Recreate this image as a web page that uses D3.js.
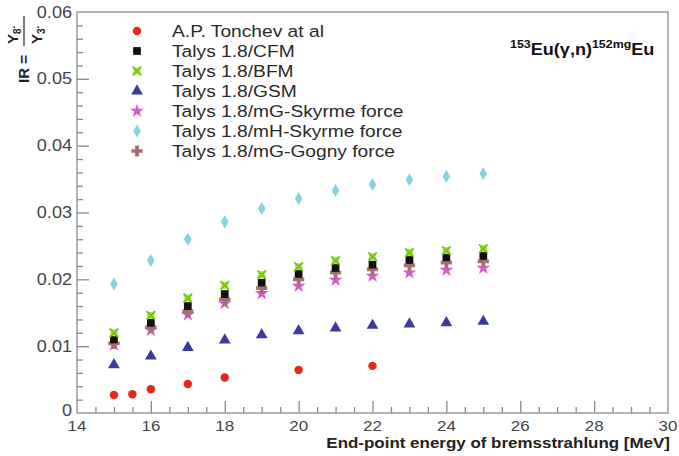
<!DOCTYPE html>
<html>
<head>
<meta charset="utf-8">
<script src="https://cdn.jsdelivr.net/npm/d3@7"></script>
<style>
  html, body { margin: 0; padding: 0; background: #fff; }
  svg { display: block; font-family: "Liberation Sans", Arial, sans-serif; }
</style>
</head>
<body>
<svg id="chart" width="679" height="456"></svg>
<script>
// ---- data ----
const energiesExp = [15, 15.5, 16, 17, 18, 20, 22];
const tonchev     = [0.0027, 0.0028, 0.00355, 0.00435, 0.0053, 0.00645, 0.00705];

const energies = [15, 16, 17, 18, 19, 20, 21, 22, 23, 24, 25];
const cfm      = [0.0110, 0.0135, 0.0160, 0.0178, 0.0195, 0.0208, 0.0217, 0.0222, 0.0229, 0.0233, 0.0235];
const bfm      = [0.0120, 0.0146, 0.0172, 0.0191, 0.0207, 0.0219, 0.0228, 0.0234, 0.0240, 0.0243, 0.0246];
const gsm      = [0.0072, 0.0085, 0.0098, 0.0109, 0.0117, 0.0123, 0.0127, 0.0131, 0.0133, 0.0135, 0.0137];
const mgSkyrme = [0.0102, 0.0124, 0.0147, 0.0164, 0.0179, 0.0190, 0.0199, 0.0205, 0.0210, 0.0214, 0.0217];
const mhSkyrme = [0.0193, 0.0228, 0.0260, 0.0286, 0.0306, 0.0321, 0.0333, 0.0342, 0.0349, 0.0354, 0.0358];
const mgGogny  = [0.0104, 0.0128, 0.0152, 0.0170, 0.0187, 0.0200, 0.0210, 0.0215, 0.0221, 0.0225, 0.0227];

const legendLabels = [
  "A.P. Tonchev at al",
  "Talys 1.8/CFM",
  "Talys 1.8/BFM",
  "Talys 1.8/GSM",
  "Talys 1.8/mG-Skyrme force",
  "Talys 1.8/mH-Skyrme force",
  "Talys 1.8/mG-Gogny force"
];
const xTicks = [14, 16, 18, 20, 22, 24, 26, 28, 30];
const yTicks = [0, 0.01, 0.02, 0.03, 0.04, 0.05, 0.06];
const xTitle = "End-point energy of bremsstrahlung [MeV]";

// ---- layout ----
const svg = d3.select("#chart");
const L = 77, R = 668, T = 12, B = 413;
const SX = 1.13; // horizontal stretch of the reference's text
const x = d3.scaleLinear().domain([14, 30]).range([L, R]);
const y = d3.scaleLinear().domain([0, 0.06]).range([B, T]);
const axisCol = "#8a8a8a";

// frame
svg.append("rect").attr("x", L).attr("y", T).attr("width", R - L).attr("height", B - T)
  .attr("fill", "none").attr("stroke", "#9a9a9a").attr("stroke-width", 1.5);

// minor ticks
const yMinor = d3.range(0, 0.0601, 0.002).filter(v => Math.abs(v / 0.01 - Math.round(v / 0.01)) > 1e-6);
const xMinor = d3.range(14, 30.01, 0.5).filter(v => Math.abs(v / 2 - Math.round(v / 2)) > 1e-6);

const gy = svg.append("g").attr("transform", `translate(${L},0)`)
  .call(d3.axisRight(y).tickValues(yMinor).tickSize(6).tickFormat(""));
const gyM = svg.append("g").attr("transform", `translate(${L},0)`)
  .call(d3.axisRight(y).tickValues(yTicks.slice(1, -1)).tickSize(12).tickFormat(""));
const gx = svg.append("g").attr("transform", `translate(0,${B})`)
  .call(d3.axisTop(x).tickValues(xMinor).tickSize(6).tickFormat(""));
const gxM = svg.append("g").attr("transform", `translate(0,${B})`)
  .call(d3.axisTop(x).tickValues(xTicks.slice(1, -1)).tickSize(12).tickFormat(""));
[gy, gyM, gx, gxM].forEach(g => {
  g.select(".domain").remove();
  g.selectAll("line").attr("stroke", axisCol).attr("stroke-width", 1.3);
});

// stretched text helper
function stext(parent, tx, ty, str, opts) {
  const t = parent.append("text")
    .attr("transform", `translate(${tx},${ty}) scale(${opts.sx || SX},1)`)
    .attr("font-size", opts.size)
    .attr("fill", opts.fill || "#333")
    .attr("text-anchor", opts.anchor || "start")
    .attr("font-weight", opts.weight || "normal")
    .text(str);
  return t;
}

// y tick labels
const yFmt = d => d === 0 ? "0" : d3.format(".2f")(d);
yTicks.forEach(v => stext(svg, 72, v === 0 ? y(v) + 2.5 : y(v) + 5.5, yFmt(v), {size: 16, anchor: "end", fill: "#444"}));
// x tick labels
xTicks.forEach(v => stext(svg, x(v), 431, String(v), {size: 15, anchor: "middle", fill: "#444"}));

// x title
stext(svg, 670, 448, xTitle, {size: 15, anchor: "end", weight: "bold", fill: "#222"});

// y title: IR = Y8 / Y3 (rotated)
const yl = svg.append("g").attr("transform", "rotate(-90)")
  .attr("font-weight", "bold").attr("fill", "#222");
yl.append("text").attr("x", -83).attr("y", 29).attr("font-size", 15).text("IR =");
const num = yl.append("text").attr("x", -44).attr("y", 18).attr("font-size", 15);
num.append("tspan").text("Y");
num.append("tspan").attr("font-size", 10).attr("dy", 3).text("8");
num.append("tspan").attr("font-size", 10).attr("dy", -3).text("·");
yl.append("line").attr("x1", -46).attr("x2", -16).attr("y1", 24).attr("y2", 24)
  .attr("stroke", "#222").attr("stroke-width", 1.2);
const den = yl.append("text").attr("x", -44).attr("y", 42).attr("font-size", 15);
den.append("tspan").text("Y");
den.append("tspan").attr("font-size", 10).attr("dy", 3).text("3");
den.append("tspan").attr("font-size", 10).attr("dy", -3).text("·");

// reaction title
const ttl = svg.append("text")
  .attr("transform", `translate(510,55) scale(${SX},1)`)
  .attr("font-weight", "bold").attr("fill", "#111").attr("font-size", 16);
ttl.append("tspan").attr("font-size", 11).attr("dy", -7).text("153");
ttl.append("tspan").attr("dy", 7).text("Eu(γ,n)");
ttl.append("tspan").attr("font-size", 11).attr("dy", -7).text("152mg");
ttl.append("tspan").attr("dy", 7).text("Eu");

// ---- markers ----
const marks = {
  tonchev: {draw: (g) => g.append("path").attr("d", d3.symbol(d3.symbolCircle, 56)()).attr("fill", "#e5281c")},
  cfm:     {draw: (g) => g.append("path").attr("d", d3.symbol(d3.symbolSquare, 60)()).attr("fill", "#111")},
  bfm:     {draw: (g) => {
              g.append("path").attr("d", d3.symbol(d3.symbolSquare, 48)()).attr("fill", "#a9e35a");
              g.append("path").attr("d", d3.symbol(d3.symbolTimes, 50)()).attr("fill", "none").attr("stroke", "#78c400").attr("stroke-width", 1.8);
            }},
  gsm:     {draw: (g) => g.append("path").attr("d", d3.symbol(d3.symbolTriangle, 60)()).attr("fill", "#3b3b9f")},
  mgS:     {draw: (g) => g.append("path").attr("d", d3.symbol(d3.symbolStar, 60)()).attr("fill", "#d659c7")},
  mhS:     {draw: (g) => g.append("path").attr("d", d3.symbol(d3.symbolDiamond, 50)()).attr("fill", "#85d3e1")},
  gogny:   {draw: (g) => g.append("path").attr("d", d3.symbol(d3.symbolCross, 70)()).attr("fill", "#a36e72")}
};

const seriesList = [
  {key: "mgS",   xs: energies, ys: mgSkyrme},
  {key: "gogny", xs: energies, ys: mgGogny},
  {key: "cfm",   xs: energies, ys: cfm},
  {key: "bfm",   xs: energies, ys: bfm},
  {key: "gsm",   xs: energies, ys: gsm},
  {key: "mhS",   xs: energies, ys: mhSkyrme},
  {key: "tonchev", xs: energiesExp, ys: tonchev}
];
seriesList.forEach(s => {
  const g = svg.append("g");
  s.ys.forEach((v, i) => {
    const pg = g.append("g").attr("transform", `translate(${x(s.xs[i])},${y(v)})`);
    marks[s.key].draw(pg);
  });
});

// ---- legend ----
const legendKeys = ["tonchev", "cfm", "bfm", "gsm", "mgS", "mhS", "gogny"];
legendKeys.forEach((k, i) => {
  const cy = 31 + i * 20;
  const pg = svg.append("g").attr("transform", `translate(137,${cy})`);
  marks[k].draw(pg);
  stext(svg, 172, cy + 6, legendLabels[i], {size: 17, fill: "#2a2a2a"});
});
</script>
</body>
</html>
